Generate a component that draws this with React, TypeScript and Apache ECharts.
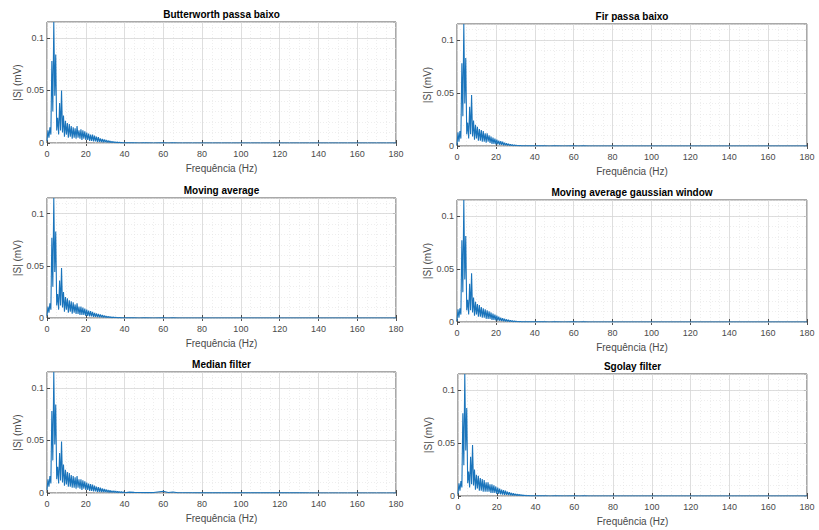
import React, { useEffect, useRef } from "react";
import * as echarts from "echarts";

// Frequency grid of the low band (0 to 40 Hz, 0.5 Hz step) and the tail
const lowBandCount = 81;
const lowBandStep = 0.5;
const tailFreqs = [42.5, 45, 47.5, 50, 55, 60, 62.5, 65, 67.5, 70, 80, 90, 100, 110, 120, 130, 140, 150, 160, 170, 180];

const xTicks = [0, 20, 40, 60, 80, 100, 120, 140, 160, 180];
const yTickLabels = ["0", "0.05", "0.1"];

const titles = [
  "Butterworth passa baixo",
  "Fir passa baixo",
  "Moving average",
  "Moving average gaussian window",
  "Median filter",
  "Sgolay filter",
];

const butterLow = [0.002,0.012,0.005,0.015,0.008,0.078,0.03,0.115,0.045,0.084,
 0.012,0.024,0.008,0.038,0.012,0.05,0.01,0.026,0.006,0.021,
 0.008,0.019,0.005,0.018,0.006,0.016,0.004,0.015,0.005,0.014,
 0.004,0.016,0.005,0.012,0.004,0.013,0.003,0.012,0.004,0.011,
 0.003,0.01,0.003,0.009,0.002,0.008,0.002,0.008,0.0015,0.007,
 0.0015,0.006,0.001,0.0055,0.001,0.0045,0.0008,0.004,0.0007,0.0035,
 0.0006,0.003,0.0005,0.0025,0.0004,0.002,0.0003,0.0017,0.0003,0.0014,
 0.0002,0.0011,0.0002,0.0009,0.0001,0.0007,0.0001,0.0005,0.0001,0.0003,
 0.0001];

const firLow = [0.001,0.013,0.004,0.014,0.007,0.078,0.028,0.115,0.04,0.083,
 0.011,0.022,0.007,0.037,0.011,0.048,0.009,0.024,0.006,0.02,
 0.007,0.018,0.005,0.016,0.005,0.015,0.004,0.014,0.004,0.012,
 0.003,0.012,0.004,0.01,0.003,0.009,0.002,0.008,0.002,0.007,
 0.0015,0.006,0.0015,0.005,0.001,0.0045,0.001,0.004,0.0007,0.003,
 0.0006,0.0025,0.0005,0.002,0.0004,0.0016,0.0003,0.0013,0.0002,0.001,
 0.0002,0.0008,0.0001,0.0006,0.0001,0.0004,0.0001,0.0003,0.0001,0.0002,
 0.0001,0.0001,0.0001,0.0001,0.0001,0.0001,0.0001,0.0001,0.0001,0.0001,
 0.0001];

const movAvgLow = [0.002,0.011,0.005,0.014,0.008,0.077,0.03,0.115,0.044,0.083,
 0.012,0.023,0.008,0.036,0.012,0.048,0.01,0.025,0.006,0.02,
 0.008,0.019,0.005,0.017,0.006,0.016,0.004,0.015,0.005,0.013,
 0.004,0.014,0.004,0.011,0.003,0.011,0.003,0.01,0.003,0.009,
 0.002,0.008,0.002,0.007,0.0015,0.0065,0.0015,0.006,0.001,0.005,
 0.001,0.0045,0.0008,0.004,0.0007,0.0035,0.0006,0.003,0.0005,0.0025,
 0.0004,0.002,0.0003,0.0017,0.0003,0.0014,0.0002,0.0011,0.0002,0.0009,
 0.0001,0.0007,0.0001,0.0005,0.0001,0.0004,0.0001,0.0003,0.0001,0.0002,
 0.0001];

const gaussLow = [0.001,0.012,0.004,0.013,0.007,0.077,0.028,0.115,0.04,0.081,
 0.011,0.021,0.007,0.036,0.011,0.046,0.009,0.023,0.006,0.019,
 0.007,0.017,0.005,0.016,0.005,0.014,0.004,0.013,0.004,0.012,
 0.003,0.011,0.003,0.01,0.003,0.009,0.002,0.008,0.002,0.007,
 0.0015,0.006,0.0012,0.005,0.001,0.0042,0.0008,0.0035,0.0006,0.003,
 0.0005,0.0025,0.0004,0.002,0.0003,0.0016,0.0003,0.0013,0.0002,0.001,
 0.0002,0.0008,0.0001,0.0006,0.0001,0.0004,0.0001,0.0003,0.0001,0.0002,
 0.0001,0.0001,0.0001,0.0001,0.0001,0.0001,0.0001,0.0001,0.0001,0.0001,
 0.0001];

const medianLow = [0.003,0.013,0.006,0.016,0.009,0.078,0.031,0.115,0.046,0.084,
 0.013,0.025,0.009,0.038,0.012,0.049,0.01,0.027,0.007,0.022,
 0.008,0.02,0.006,0.019,0.006,0.017,0.005,0.016,0.005,0.015,
 0.004,0.016,0.005,0.013,0.004,0.013,0.003,0.012,0.004,0.011,
 0.003,0.01,0.003,0.009,0.002,0.0085,0.002,0.008,0.0015,0.007,
 0.0015,0.006,0.001,0.0055,0.001,0.005,0.0008,0.0045,0.0008,0.004,
 0.0006,0.0035,0.0006,0.003,0.0005,0.0026,0.0005,0.0022,0.0004,0.002,
 0.0004,0.0018,0.0003,0.0016,0.0003,0.0014,0.0003,0.0012,0.0002,0.001,
 0.0003];

const sgolayLow = [0.002,0.012,0.005,0.014,0.008,0.078,0.029,0.115,0.043,0.083,
 0.012,0.023,0.008,0.037,0.011,0.048,0.01,0.025,0.006,0.02,
 0.007,0.019,0.005,0.017,0.005,0.016,0.004,0.015,0.004,0.013,
 0.004,0.013,0.004,0.011,0.003,0.011,0.003,0.01,0.003,0.009,
 0.002,0.008,0.002,0.007,0.0015,0.006,0.0013,0.0055,0.001,0.005,
 0.001,0.0042,0.0008,0.0037,0.0006,0.003,0.0005,0.0026,0.0004,0.0022,
 0.0004,0.0018,0.0003,0.0015,0.0003,0.0012,0.0002,0.0009,0.0002,0.0007,
 0.0001,0.0005,0.0001,0.0004,0.0001,0.0003,0.0001,0.0002,0.0001,0.0002,
 0.0001];

const flatTail = [0.0001,0.0001,0,0.0001,0,0.0001,0,0.0001,0,0,0,0,0,0,0,0,0,0,0,0,0];
const medianTail = [0.0008,0.0006,0.0005,0.0004,0.0004,0.0016,0.0005,0.0009,0.0003,0.0002,0.0001,0.0001,0.0001,0.0001,0.0001,0.0001,0,0,0,0,0];

const lowSets = [butterLow, firLow, movAvgLow, gaussLow, medianLow, sgolayLow];
const tailSets = [flatTail, flatTail, flatTail, flatTail, medianTail, flatTail];

const yMax = 0.115;

// layout of the six plot boxes
const boxes = [
  { left: 47, top: 22, width: 349, height: 121 },
  { left: 457, top: 24, width: 350, height: 122 },
  { left: 47, top: 198, width: 349, height: 120 },
  { left: 457, top: 200, width: 350, height: 122 },
  { left: 47, top: 372, width: 349, height: 121 },
  { left: 458, top: 374, width: 349, height: 122 },
];

const FONT = "'Liberation Sans', Arial, Helvetica, sans-serif";
const TXT = "#4a4a4a";
const FRAME = "#262626";

function buildOption() {
  const grid: any[] = [];
  const xAxis: any[] = [];
  const yAxis: any[] = [];
  const series: any[] = [];
  const graphic: any[] = [];

  boxes.forEach((b, i) => {
    grid.push({
      left: b.left,
      top: b.top,
      width: b.width,
      height: b.height,
      show: true,
      backgroundColor: "#ffffff",
      borderColor: FRAME,
      borderWidth: 0.8,
      containLabel: false,
    });
    xAxis.push({
      type: "value",
      gridIndex: i,
      min: xTicks[0],
      max: xTicks[xTicks.length - 1],
      interval: xTicks[1] - xTicks[0],
      axisLine: { show: false },
      axisTick: { show: true, inside: true, length: 3, lineStyle: { color: FRAME, width: 0.8 } },
      axisLabel: { fontSize: 9, color: TXT, fontFamily: FONT, margin: 6 },
      splitLine: { show: true, lineStyle: { color: "#d6d6d6", width: 0.8 } },
      minorTick: { show: false, splitNumber: 4 },
      minorSplitLine: { show: true, lineStyle: { color: "#e2e2e2", width: 0.6, type: [1, 2] } },
      name: "Frequência (Hz)",
      nameLocation: "middle",
      nameGap: 20,
      nameTextStyle: { fontSize: 10, color: TXT, fontFamily: FONT },
    });
    xAxis.push({
      type: "value",
      gridIndex: i,
      position: "top",
      min: xTicks[0],
      max: xTicks[xTicks.length - 1],
      interval: xTicks[1] - xTicks[0],
      axisLine: { show: false },
      axisTick: { show: true, inside: true, length: 3, lineStyle: { color: FRAME, width: 0.8 } },
      axisLabel: { show: false },
      splitLine: { show: false },
    });
    yAxis.push({
      type: "value",
      gridIndex: i,
      min: 0,
      max: yMax,
      interval: 0.05,
      axisLine: { show: false },
      axisTick: { show: true, inside: true, length: 3, lineStyle: { color: FRAME, width: 0.8 } },
      axisLabel: {
        fontSize: 9,
        color: TXT,
        fontFamily: FONT,
        margin: 3,
        showMaxLabel: false,
        formatter: (v: number) => {
          const k = Math.round(v / 0.05);
          return yTickLabels[k] ?? "";
        },
      },
      splitLine: { show: true, lineStyle: { color: "#d6d6d6", width: 0.8 } },
      name: "|S| (mV)",
      nameLocation: "middle",
      nameGap: 21,
      nameRotate: 90,
      nameTextStyle: { fontSize: 10, color: TXT, fontFamily: FONT },
      z: 3,
    });
    yAxis.push({
      type: "value",
      gridIndex: i,
      min: 0,
      max: yMax,
      interval: 0.01,
      axisLine: { show: false },
      axisTick: { show: false },
      axisLabel: { show: false },
      splitLine: { show: true, lineStyle: { color: "#e2e2e2", width: 0.6, type: [1, 2] } },
      z: 1,
    });
    yAxis.push({
      type: "value",
      gridIndex: i,
      position: "right",
      min: 0,
      max: yMax,
      interval: 0.05,
      axisLine: { show: false },
      axisTick: { show: true, inside: true, length: 3, lineStyle: { color: FRAME, width: 0.8 } },
      axisLabel: { show: false },
      splitLine: { show: false },
    });

    const data: number[][] = [];
    lowSets[i].forEach((v, k) => data.push([k * lowBandStep, v]));
    tailSets[i].forEach((v, k) => data.push([tailFreqs[k], v]));

    series.push({
      type: "line",
      xAxisIndex: i * 2,
      yAxisIndex: i * 3,
      data,
      showSymbol: false,
      symbol: "none",
      lineStyle: { color: "#1a74bb", width: 1.1 },
      clip: true,
      z: 5,
    });

    graphic.push({
      type: "text",
      x: b.left + b.width / 2,
      y: b.top - 3,
      style: {
        text: titles[i],
        fontSize: 10,
        fontWeight: "bold",
        fontFamily: FONT,
        fill: "#000000",
        align: "center",
        verticalAlign: "bottom",
        textAlign: "center",
        textVerticalAlign: "bottom",
      },
    });
  });

  return {
    animation: false,
    backgroundColor: "#ffffff",
    grid,
    xAxis,
    yAxis,
    series,
    graphic,
  };
}

export default function App() {
  const ref = useRef<HTMLDivElement | null>(null);
  useEffect(() => {
    if (!ref.current) return;
    const chart = echarts.init(ref.current, undefined, { renderer: "svg" });
    chart.setOption(buildOption() as any);
    return () => chart.dispose();
  }, []);
  return (
    <div
      ref={ref}
      style={{ position: "fixed", left: 0, top: 0, width: 819, height: 530, background: "#fff" }}
    />
  );
}
